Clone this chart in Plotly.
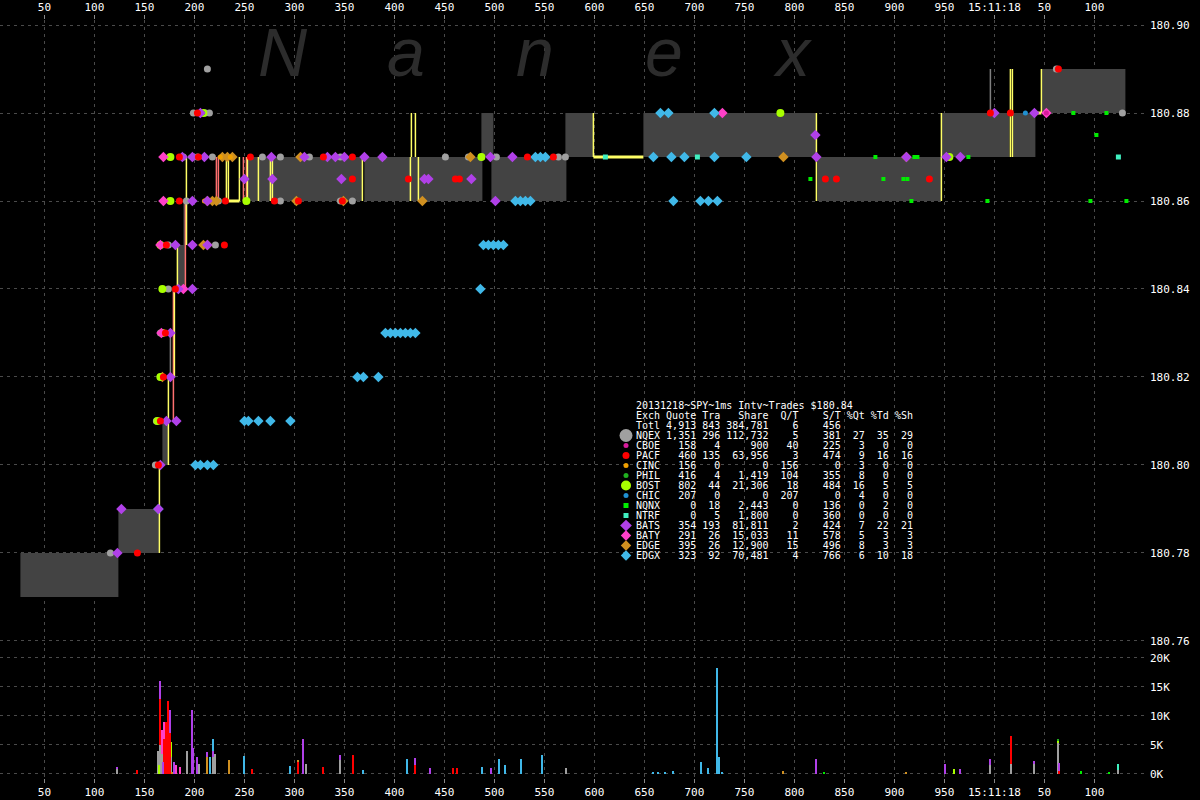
import plotly.graph_objects as go

# ---------------- data ----------------
# time axis: milliseconds after 15:11:17 (1000 = 15:11:18)
tick_vals = [50, 100, 150, 200, 250, 300, 350, 400, 450, 500, 550, 600, 650, 700, 750, 800,
             850, 900, 950, 1000, 1050, 1100]
tick_text = ["50", "100", "150", "200", "250", "300", "350", "400", "450", "500", "550", "600",
             "650", "700", "750", "800", "850", "900", "950", "15:11:18", "50", "100"]
price_ticks = [180.76, 180.78, 180.80, 180.82, 180.84, 180.86, 180.88, 180.90]
vol_ticks = [0, 5000, 10000, 15000, 20000]
vol_tick_text = ["0K", "5K", "10K", "15K", "20K"]

# NBBO spread boxes
box_t0 = [26, 124, 168, 183, 189, 252, 370, 487, 497, 571, 649, 823, 947, 1018, 1047]
box_t1 = [124, 165, 174, 191, 193, 368, 488, 499, 572, 599, 822, 947, 1015, 1041, 1131]
box_bid = [180.77, 180.78, 180.80, 180.84, 180.85, 180.86, 180.86, 180.87, 180.86, 180.87,
           180.87, 180.86, 180.87, 180.87, 180.88]
box_ask = [180.78, 180.79, 180.81, 180.85, 180.86, 180.87, 180.87, 180.88, 180.87, 180.88,
           180.88, 180.87, 180.88, 180.88, 180.89]

# quote transition lines
yel_t = [165, 174, 180, 183, 192, 232, 234, 245, 253, 264, 276, 278, 368, 416, 417, 421, 424,
         599, 822, 947, 1016, 1018, 1047]
yel_lo = [180.78, 180.80, 180.82, 180.84, 180.85, 180.86, 180.86, 180.86, 180.86, 180.86, 180.86,
          180.86, 180.86, 180.86, 180.87, 180.87, 180.86, 180.87, 180.86, 180.86, 180.87, 180.87,
          180.88]
yel_hi = [180.80, 180.82, 180.84, 180.85, 180.87, 180.87, 180.87, 180.87, 180.87, 180.87, 180.87,
          180.87, 180.87, 180.87, 180.88, 180.88, 180.87, 180.88, 180.88, 180.88, 180.89, 180.89,
          180.89]
pink_t = [179, 191, 222, 224, 249, 252]
pink_lo = [180.81, 180.84, 180.86, 180.86, 180.86, 180.86]
pink_hi = [180.84, 180.86, 180.87, 180.87, 180.87, 180.87]
gray_t = [176, 996]
gray_lo = [180.82, 180.88]
gray_hi = [180.83, 180.89]
ybar_t0 = [599, 234, 1043]
ybar_t1 = [649, 245, 1047]
ybar_p = [180.87, 180.86, 180.88]

# quotes / trades by exchange
nqex_t = [213, 199, 211, 215, 189, 203, 218, 268, 286, 315, 346, 388, 451, 474, 487, 502, 564, 571,
          192, 224, 286, 346, 358, 174, 221, 174, 166, 166, 162, 161, 116, 1128, 1062]
nqex_p = [180.89, 180.88, 180.88, 180.88, 180.87, 180.87, 180.87, 180.87, 180.87, 180.87, 180.87,
          180.87, 180.87, 180.87, 180.87, 180.87, 180.87, 180.87, 180.86, 180.86, 180.86, 180.86,
          180.86, 180.85, 180.85, 180.84, 180.83, 180.82, 180.81, 180.80, 180.78, 180.88, 180.89]
pacf_t = [203, 185, 204, 256, 329, 358, 533, 559, 358, 414, 461, 465, 831, 842, 935, 185, 231, 280,
          304, 348, 172, 230, 181, 171, 169, 166, 164, 143, 996, 1016, 1064]
pacf_p = [180.88, 180.87, 180.87, 180.87, 180.87, 180.87, 180.87, 180.87, 180.865, 180.865, 180.865,
          180.865, 180.865, 180.865, 180.865, 180.86, 180.86, 180.86, 180.86, 180.86, 180.85, 180.85,
          180.84, 180.83, 180.82, 180.81, 180.80, 180.78, 180.88, 180.88, 180.89]
bats_t = [206, 188, 198, 210, 277, 310, 333, 341, 350, 370, 388, 496, 518, 822, 912, 952, 966, 821,
          250, 278, 347, 430, 434, 477, 198, 213, 501, 181, 198, 213, 184, 198, 176, 176, 172, 182,
          166, 127, 164, 123, 1040, 1000]
bats_p = [180.88, 180.87, 180.87, 180.87, 180.87, 180.87, 180.87, 180.87, 180.87, 180.87, 180.87,
          180.87, 180.87, 180.87, 180.87, 180.87, 180.87, 180.875, 180.865, 180.865, 180.865, 180.865,
          180.865, 180.865, 180.86, 180.86, 180.86, 180.85, 180.85, 180.85, 180.84, 180.84, 180.83,
          180.82, 180.81, 180.81, 180.80, 180.79, 180.79, 180.78, 180.88, 180.88]
baty_t = [169, 169, 166, 189, 167, 728, 1052]
baty_p = [180.87, 180.86, 180.85, 180.84, 180.83, 180.88, 180.88]
edge_t = [228, 233, 238, 306, 476, 789, 912, 213, 218, 222, 302, 349, 428, 209, 213, 168]
edge_p = [180.87, 180.87, 180.87, 180.87, 180.87, 180.87, 180.87, 180.86, 180.86, 180.86, 180.86,
          180.86, 180.86, 180.85, 180.85, 180.82]
edgx_t = [666, 674, 720, 541, 546, 551, 659, 677, 690, 720, 752, 521, 526, 531, 536, 679, 706, 714,
          723, 489, 494, 499, 504, 509, 486, 391, 396, 401, 406, 411, 416, 421, 363, 369, 384, 250,
          254, 264, 276, 296, 201, 206, 213, 219, 164]
edgx_p = [180.88, 180.88, 180.88, 180.87, 180.87, 180.87, 180.87, 180.87, 180.87, 180.87, 180.87,
          180.86, 180.86, 180.86, 180.86, 180.86, 180.86, 180.86, 180.86, 180.85, 180.85, 180.85,
          180.85, 180.85, 180.84, 180.83, 180.83, 180.83, 180.83, 180.83, 180.83, 180.83, 180.82,
          180.82, 180.82, 180.81, 180.81, 180.81, 180.81, 180.81, 180.80, 180.80, 180.80, 180.80,
          180.79]
bost_t = [176, 487, 955, 786, 209, 176, 252, 166, 168, 168, 166, 163]
bost_p = [180.87, 180.87, 180.87, 180.88, 180.88, 180.86, 180.86, 180.85, 180.84, 180.83, 180.82,
          180.81]
phil_t = [196, 208]
phil_p = [180.87, 180.88]
cinc_t = [226, 236, 210]
cinc_p = [180.87, 180.87, 180.86]
chic_t = [1031]
chic_p = [180.88]
cboe_t = [1052]
cboe_p = [180.88]
nqnx_t = [816, 889, 909, 913, 881, 920, 923, 974, 917, 993, 1096, 1132, 1079, 1112, 1102]
nqnx_p = [180.865, 180.865, 180.865, 180.865, 180.87, 180.87, 180.87, 180.87, 180.86, 180.86,
          180.86, 180.86, 180.88, 180.88, 180.875]
ntrf_t = [611, 703, 1124]
ntrf_p = [180.87, 180.87, 180.87]

# trade volume by exchange
nqex_vt = [123, 164, 166, 168, 171, 173, 177, 193, 205, 219, 221, 312, 346, 572, 996, 1017, 1040,
           1064, 1124]
nqex_vv = [900, 4000, 5000, 3500, 3000, 2500, 3000, 4000, 1700, 3000, 3500, 1800, 2400, 1000, 1500,
           1700, 1700, 5400, 700]
pacf_vt = [143, 166, 170, 172, 174, 176, 258, 304, 329, 359, 421, 459, 463, 1017, 1065]
pacf_vv = [750, 8000, 6000, 9000, 12500, 7000, 900, 2000, 1200, 3300, 1500, 1000, 1000, 4800, 500]
bats_vt = [123, 166, 169, 176, 180, 198, 199, 203, 213, 219, 309, 346, 421, 436, 497, 822, 951,
           966, 996, 1040, 1065]
bats_vv = [300, 3000, 2000, 4000, 2000, 11000, 4400, 2900, 800, 1000, 6000, 800, 1200, 1000, 1000,
           2600, 1800, 900, 1100, 500, 1400]
baty_vt = [168, 170, 182, 186]
baty_vv = [4000, 3000, 1500, 1200]
bost_vt = [165, 177, 960, 1064]
bost_vv = [1500, 2500, 800, 300]
edge_vt = [178, 213, 235, 304, 789, 912]
edge_vv = [300, 3000, 2400, 400, 500, 300]
edgx_vt = [216, 219, 250, 296, 369, 413, 488, 505, 511, 527, 548, 659, 664, 671, 679, 707, 714,
           723, 725, 728]
edgx_vv = [2900, 2000, 3100, 1400, 700, 2500, 1200, 2500, 1600, 2500, 3300, 400, 300, 300, 500,
           2000, 1000, 18300, 3000, 400]
nqnx_vt = [830, 1087, 1115]
nqnx_vv = [200, 500, 200]
ntrf_vt = [1124]
ntrf_vv = [1000]
phil_vt = [1064]
phil_vv = [400]

# summary table
tbl_title = "20131218~SPY~1ms Intv~Trades $180.84"
tbl_exch = ["NQEX", "CBOE", "PACF", "CINC", "PHIL", "BOST", "CHIC", "NQNX", "NTRF", "BATS", "BATY",
            "EDGE", "EDGX"]
tbl_quote = [1351, 158, 460, 156, 416, 802, 207, 0, 0, 354, 291, 395, 323]
tbl_tra = [296, 4, 135, 0, 4, 44, 0, 18, 5, 193, 26, 26, 92]
tbl_share = [112732, 900, 63956, 0, 1419, 21306, 0, 2443, 1800, 81811, 15033, 12900, 70481]
tbl_qt = [5, 40, 3, 156, 104, 18, 207, 0, 0, 2, 11, 15, 4]
tbl_st = [381, 225, 474, 0, 355, 484, 0, 136, 360, 424, 578, 496, 766]
tbl_pqt = [27, 3, 9, 3, 8, 16, 4, 0, 0, 7, 5, 8, 6]
tbl_ptd = [35, 0, 16, 0, 0, 5, 0, 2, 0, 22, 3, 3, 10]
tbl_psh = [29, 0, 16, 0, 0, 5, 0, 0, 0, 21, 3, 3, 18]
tot_quote, tot_tra, tot_share, tot_qt, tot_st = 4913, 843, 384781, 6, 456

# ---------------- styling ----------------
COL = {"NQEX": "#a0a0a0", "CBOE": "#d81b9c", "PACF": "#ff0000", "CINC": "#f0a000",
       "PHIL": "#20b020", "BOST": "#a8ff00", "CHIC": "#2090d0", "NQNX": "#00ee00",
       "NTRF": "#40f0c0", "BATS": "#b040e8", "BATY": "#ff40c8", "EDGE": "#d09020",
       "EDGX": "#40b8e8"}
SYM = {"NQEX": ("circle", 7), "CBOE": ("circle", 5), "PACF": ("circle", 7), "CINC": ("circle", 5),
       "PHIL": ("circle", 5), "BOST": ("circle", 8), "CHIC": ("circle", 5), "NQNX": ("square", 4),
       "NTRF": ("square", 5), "BATS": ("diamond", 8), "BATY": ("diamond", 8),
       "EDGE": ("diamond", 8), "EDGX": ("diamond", 8)}
LEG = {"NQEX": 13, "CBOE": 5, "PACF": 7, "CINC": 5, "PHIL": 5, "BOST": 10, "CHIC": 5, "NQNX": 5,
       "NTRF": 5, "BATS": 9, "BATY": 8, "EDGE": 8, "EDGX": 8}
MONO = "DejaVu Sans Mono"
GRID = "#4a4a4a"

fig = go.Figure()

# spread boxes
bx, by = [], []
for t0, t1, b, a in zip(box_t0, box_t1, box_bid, box_ask):
    bx += [t0, t1, t1, t0, t0, None]
    by += [b, b, a, a, b, None]
fig.add_trace(go.Scatter(x=bx, y=by, mode="lines", fill="toself", fillcolor="#434343",
                         line=dict(width=0), hoverinfo="skip", showlegend=False))


def vlines(ts, lo, hi, color, width):
    xs, ys = [], []
    for t, a, b in zip(ts, lo, hi):
        xs += [t, t, None]
        ys += [a, b, None]
    fig.add_trace(go.Scatter(x=xs, y=ys, mode="lines", line=dict(color=color, width=width),
                             hoverinfo="skip", showlegend=False))


vlines(gray_t, gray_lo, gray_hi, "#808080", 1.5)
vlines(pink_t, pink_lo, pink_hi, "#ff7070", 1.5)
vlines(yel_t, yel_lo, yel_hi, "#ffff66", 1.5)
hx, hy = [], []
for t0, t1, p in zip(ybar_t0, ybar_t1, ybar_p):
    hx += [t0, t1, None]
    hy += [p, p, None]
fig.add_trace(go.Scatter(x=hx, y=hy, mode="lines", line=dict(color="#ffff66", width=3),
                         hoverinfo="skip", showlegend=False))

marks = [("NQEX", nqex_t, nqex_p), ("EDGE", edge_t, edge_p), ("CINC", cinc_t, cinc_p),
         ("BOST", bost_t, bost_p), ("PHIL", phil_t, phil_p), ("BATY", baty_t, baty_p),
         ("EDGX", edgx_t, edgx_p), ("BATS", bats_t, bats_p), ("PACF", pacf_t, pacf_p),
         ("CHIC", chic_t, chic_p), ("CBOE", cboe_t, cboe_p), ("NQNX", nqnx_t, nqnx_p),
         ("NTRF", ntrf_t, ntrf_p)]
for ex, ts, ps in marks:
    s, z = SYM[ex]
    fig.add_trace(go.Scatter(x=ts, y=ps, mode="markers",
                             marker=dict(symbol=s, size=z, color=COL[ex], line=dict(width=0)),
                             hoverinfo="skip", showlegend=False))

vols = [("NQEX", nqex_vt, nqex_vv), ("BOST", bost_vt, bost_vv), ("PHIL", phil_vt, phil_vv),
        ("PACF", pacf_vt, pacf_vv), ("EDGE", edge_vt, edge_vv), ("BATY", baty_vt, baty_vv),
        ("BATS", bats_vt, bats_vv), ("EDGX", edgx_vt, edgx_vv), ("NQNX", nqnx_vt, nqnx_vv),
        ("NTRF", ntrf_vt, ntrf_vv)]
for ex, ts, vs in vols:
    fig.add_trace(go.Bar(x=ts, y=vs, width=2, marker=dict(color=COL[ex], line=dict(width=0)),
                         xaxis="x2", yaxis="y2", hoverinfo="skip", showlegend=False))

# legend table symbols (overlay axes in page pixels)
row0 = 405.5
leg_y = [row0 + 10 * (i + 3) for i in range(len(tbl_exch))]
for i, ex in enumerate(tbl_exch):
    s, _ = SYM[ex]
    fig.add_trace(go.Scatter(x=[626], y=[leg_y[i]], mode="markers", xaxis="x3", yaxis="y3",
                             marker=dict(symbol=s, size=LEG[ex], color=COL[ex],
                                         line=dict(width=0)),
                             hoverinfo="skip", showlegend=False))

NB = "\u00a0"


def row(a, b, c, d, e, f, g, h, k):
    s = f"{a:<4}{b:>6}{c:>4}{d:>8}{e:>5}{f:>7}{g:>4}{h:>4}{k:>4}"
    return s.replace(" ", NB)


lines = [tbl_title,
         row("Exch", "Quote", "Tra", "Share", "Q/T", "S/T", "%Qt", "%Td", "%Sh"),
         row("Totl", f"{tot_quote:,}", tot_tra, f"{tot_share:,}", tot_qt, tot_st, "", "", "")]
for i, ex in enumerate(tbl_exch):
    lines.append(row(ex, f"{tbl_quote[i]:,}", tbl_tra[i], f"{tbl_share[i]:,}", tbl_qt[i],
                     tbl_st[i], tbl_pqt[i], tbl_ptd[i], tbl_psh[i]))
annos = []
for i, ln in enumerate(lines):
    annos.append(dict(x=634, y=row0 + 10 * i, xref="x3", yref="y3", text=ln, showarrow=False,
                      xanchor="left", yanchor="middle",
                      font=dict(family=MONO, size=10, color="white")))

# watermark
for ch, px in zip("Nanex", [283, 406, 535, 664, 792]):
    annos.append(dict(x=px, y=52, xref="x3", yref="y3", text=ch, showarrow=False,
                      font=dict(family="Liberation Sans", size=68, color="#2c2c2c",
                                style="italic")))
annos.append(dict(x=1055, y=659, xref="x3", yref="y3", text="Trade" + NB + "Volume",
                  showarrow=False, font=dict(family=MONO, size=11, color="white")))

X0, X1 = 5.6, 1152.6
axis_common = dict(range=[X0, X1], tickvals=tick_vals, ticktext=tick_text, showgrid=True,
                   gridcolor=GRID, griddash="3px,4px", gridwidth=1, zeroline=False,
                   showline=False, ticks="outside", ticklen=4, tickcolor="#888888",
                   tickfont=dict(family=MONO, size=11, color="white"))

fig.update_layout(
    width=1200, height=800, paper_bgcolor="black", plot_bgcolor="black",
    margin=dict(l=0, r=53, t=20, b=22), barmode="stack", bargap=0,
    showlegend=False, annotations=annos, hovermode=False,
    xaxis=dict(domain=[0, 1], anchor="y", side="top", **axis_common),
    yaxis=dict(domain=[0.1755, 1], anchor="x", side="right",
               range=[180.75909, 180.90114], tickvals=price_ticks,
               ticktext=[f"{p:.2f}" for p in price_ticks], showgrid=True, gridcolor=GRID,
               griddash="3px,4px", zeroline=False, showline=False, ticks="",
               ticklabelstandoff=2, tickfont=dict(family=MONO, size=11, color="white")),
    xaxis2=dict(domain=[0, 1], anchor="y2", side="bottom", matches="x", **axis_common),
    yaxis2=dict(domain=[0, 0.1715], anchor="x2", side="right", range=[-690, 21700],
                tickvals=vol_ticks, ticktext=vol_tick_text, showgrid=True, gridcolor=GRID,
                griddash="3px,4px", zeroline=False, showline=False, ticks="",
                ticklabelstandoff=2, tickfont=dict(family=MONO, size=11, color="white")),
    xaxis3=dict(overlaying="x", anchor="y3", range=[0, 1147], visible=False),
    yaxis3=dict(overlaying="y", anchor="x3", range=[645, 20], visible=False),
)

fig.write_html("out.html", config={"displayModeBar": False},
               post_script="document.body.style.margin='0';document.body.style.background='black';")
